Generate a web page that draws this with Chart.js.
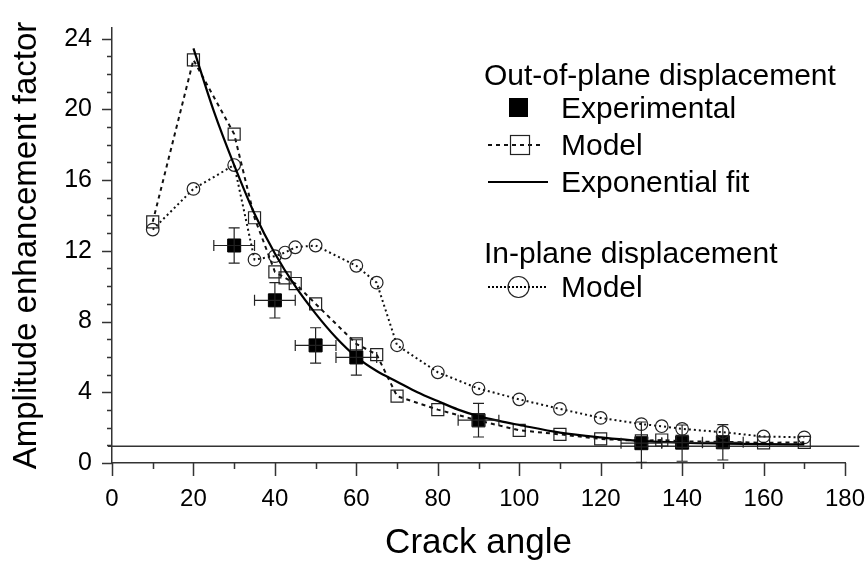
<!DOCTYPE html>
<html><head><meta charset="utf-8">
<script src="https://cdn.jsdelivr.net/npm/chart.js@4.4.0/dist/chart.umd.min.js"></script>
<style>html,body{margin:0;padding:0;background:#fff;}#wrap{width:868px;height:565px;}</style>
</head><body><div id="wrap"><canvas id="c" width="868" height="565"></canvas></div>
<script>
// ---- data ----
const crackAngleModel = [10,20,30,35,40,42.5,45,50,60,65,70,80,90,100,110,120,130,135,140,150,160,170];
const outOfPlaneModel = [13.64,22.8,18.6,13.87,10.81,10.47,10.15,9.0,6.74,6.13,3.78,3.02,2.4,1.85,1.62,1.36,1.25,1.3,1.22,1.2,1.14,1.17];
const crackAngleInPlane = [10,20,30,35,40,42.5,45,50,60,65,70,80,90,100,110,120,130,135,140,150,160,170];
const inPlaneModel = [13.2,15.5,16.85,11.5,11.7,11.9,12.2,12.3,11.15,10.2,6.66,5.13,4.21,3.6,3.06,2.55,2.2,2.08,1.93,1.74,1.5,1.45];
const crackAngleExp = [30,40,50,60,90,130,140,150];
const experimental = [12.3,9.2,6.65,5.97,2.42,1.12,1.15,1.17];
const expAngleErr = [5,5,5,5,5,5,5,5];
const expValueErrUp = [1.0,1.0,1.0,1.0,0.95,1.2,1.0,1.0];
const expValueErrDown = [1.0,1.0,1.0,1.0,0.95,1.08,1.05,1.0];
const crackAngleFit = [20,25,30,35,40,45,50,55,60,65,70,75,80,85,90,95,100,110,120,130,140,150,160,170];
const exponentialFit = [23.45,19.9,16.85,14.1,11.85,10.0,8.45,7.1,6.0,5.2,4.6,4.0,3.5,3.02,2.65,2.38,2.15,1.72,1.45,1.25,1.15,1.1,1.07,1.05];
const xTickLabels = [0,20,40,60,80,100,120,140,160,180];
const yTickLabels = [0,4,8,12,16,20,24];
const referenceLevel = 0.95;
const referenceSpan = [-1, 183.5];

const FONT = '"Liberation Sans", Arial, sans-serif';
const toPts = (xs, ys) => xs.map((x, i) => ({x: x, y: ys[i]}));

const decorPlugin = {
  id: 'decor',
  beforeDatasetsDraw(chart) {
    const {ctx, scales: {x, y}} = chart;
    ctx.save();
    ctx.strokeStyle = '#333';
    ctx.lineWidth = 1.5;
    const py = y.getPixelForValue(referenceLevel);
    ctx.beginPath();
    ctx.moveTo(x.getPixelForValue(referenceSpan[0]), py);
    ctx.lineTo(x.getPixelForValue(referenceSpan[1]), py);
    ctx.stroke();
    ctx.restore();
  },
  afterDatasetsDraw(chart) {
    const {ctx, scales: {x, y}} = chart;
    ctx.save();
    ctx.strokeStyle = '#222';
    ctx.lineWidth = 1.2;
    const cap = 5.5;
    crackAngleExp.forEach((a, i) => {
      const v = experimental[i];
      const px = x.getPixelForValue(a), py = y.getPixelForValue(v);
      const x1 = x.getPixelForValue(a - expAngleErr[i]), x2 = x.getPixelForValue(a + expAngleErr[i]);
      const y1 = y.getPixelForValue(v + expValueErrUp[i]), y2 = y.getPixelForValue(v - expValueErrDown[i]);
      ctx.beginPath();
      ctx.moveTo(x1, py); ctx.lineTo(x2, py);
      ctx.moveTo(x1, py - cap); ctx.lineTo(x1, py + cap);
      ctx.moveTo(x2, py - cap); ctx.lineTo(x2, py + cap);
      ctx.moveTo(px, y1); ctx.lineTo(px, y2);
      ctx.moveTo(px - cap, y1); ctx.lineTo(px + cap, y1);
      ctx.moveTo(px - cap, y2); ctx.lineTo(px + cap, y2);
      ctx.stroke();
    });
    ctx.restore();
  },
  afterDraw(chart) {
    const {ctx, chartArea, scales: {x, y}} = chart;
    ctx.save();
    ctx.strokeStyle = '#333';
    ctx.lineWidth = 1.5;
    ctx.beginPath();
    for (let v = 0; v <= 24; v += 1) {
      const py = Math.round(y.getPixelForValue(v)) + 0.5;
      const len = v % 4 === 0 ? 10 : 5;
      ctx.moveTo(chartArea.left - len, py); ctx.lineTo(chartArea.left, py);
    }
    for (let v = 0; v <= 180; v += 10) {
      const px = Math.round(x.getPixelForValue(v)) + 0.5;
      const len = v % 20 === 0 ? 13 : 6;
      ctx.moveTo(px, chartArea.bottom); ctx.lineTo(px, chartArea.bottom + len);
    }
    ctx.stroke();

    // legend
    ctx.fillStyle = '#000';
    ctx.font = '30px ' + FONT;
    ctx.textBaseline = 'alphabetic';
    ctx.textAlign = 'left';
    ctx.fillText('Out-of-plane displacement', 484, 85);
    ctx.fillText('Experimental', 561, 118);
    ctx.fillText('Model', 561, 155);
    ctx.fillText('Exponential fit', 561, 192);
    ctx.fillText('In-plane displacement', 484, 263);
    ctx.fillText('Model', 561, 297);
    // experimental symbol
    ctx.fillRect(509, 98, 19, 19);
    // out-of-plane model symbol
    ctx.strokeStyle = '#111';
    ctx.lineWidth = 2;
    ctx.setLineDash([4, 4]);
    ctx.beginPath(); ctx.moveTo(488, 145); ctx.lineTo(542, 145); ctx.stroke();
    ctx.setLineDash([]);
    ctx.lineWidth = 1.2;
    ctx.strokeStyle = '#222';
    ctx.strokeRect(510.5, 135.5, 19, 19);
    // fit symbol
    ctx.strokeStyle = '#000';
    ctx.lineWidth = 2;
    ctx.beginPath(); ctx.moveTo(488, 182); ctx.lineTo(548, 182); ctx.stroke();
    // in-plane symbol
    ctx.setLineDash([2, 2]);
    ctx.lineWidth = 2;
    ctx.beginPath(); ctx.moveTo(488, 287); ctx.lineTo(547, 287); ctx.stroke();
    ctx.setLineDash([]);
    ctx.lineWidth = 1.2;
    ctx.strokeStyle = '#222';
    ctx.beginPath(); ctx.arc(518.5, 287, 10.5, 0, Math.PI * 2); ctx.stroke();
    ctx.restore();
  }
};

new Chart(document.getElementById('c').getContext('2d'), {
  type: 'line',
  data: {
    datasets: [
      {
        label: 'Exponential fit',
        data: toPts(crackAngleFit, exponentialFit),
        borderColor: '#000', borderWidth: 2.2, pointRadius: 0,
        cubicInterpolationMode: 'monotone', fill: false
      },
      {
        label: 'Out-of-plane Model',
        data: toPts(crackAngleModel, outOfPlaneModel),
        borderColor: '#111', borderWidth: 2, borderDash: [4, 4],
        pointStyle: 'rect', pointRadius: 8.5, pointBorderWidth: 1.2,
        pointBorderColor: '#222', pointBackgroundColor: 'rgba(0,0,0,0)', fill: false
      },
      {
        label: 'In-plane Model',
        data: toPts(crackAngleInPlane, inPlaneModel),
        borderColor: '#111', borderWidth: 2, borderDash: [2, 3],
        pointStyle: 'circle', pointRadius: 6.3, pointBorderWidth: 1.2,
        pointBorderColor: '#222', pointBackgroundColor: 'rgba(0,0,0,0)', fill: false
      },
      {
        label: 'Experimental',
        data: toPts(crackAngleExp, experimental),
        showLine: false,
        pointStyle: 'rect', pointRadius: 9.2, pointBorderWidth: 1,
        pointBorderColor: '#000', pointBackgroundColor: '#000'
      }
    ]
  },
  options: {
    responsive: false,
    animation: false,
    events: [],
    layout: {padding: {left: 0, top: 28, right: 23, bottom: 0}},
    plugins: {legend: {display: false}, tooltip: {enabled: false}},
    scales: {
      x: {
        type: 'linear', min: 0, max: 180,
        grid: {display: false},
        border: {display: true, color: '#333', width: 1.5},
        ticks: {
          stepSize: 20, padding: 14, color: '#000', maxRotation: 0,
          font: {family: FONT, size: 24},
          callback: v => xTickLabels.includes(v) ? String(v) : ''
        },
        title: {display: true, text: 'Crack angle', color: '#000',
          font: {family: FONT, size: 35}, padding: {top: 0, bottom: 1}},
        afterFit: s => { s.height = 102; s.paddingLeft = 0; s.paddingRight = 0; }
      },
      y: {
        type: 'linear', min: 0, max: 24.6,
        grid: {display: false},
        border: {display: true, color: '#333', width: 1.5},
        ticks: {
          stepSize: 4, includeBounds: false, padding: 12, color: '#000',
          font: {family: FONT, size: 25},
          callback: v => yTickLabels.includes(v) ? String(v) : ''
        },
        title: {display: true, text: 'Amplitude enhancement factor', color: '#000',
          font: {family: FONT, size: 33}, padding: {top: 7, bottom: 0}},
        afterFit: s => { s.width = 112; s.paddingTop = 0; s.paddingBottom = 0; }
      }
    }
  },
  plugins: [decorPlugin]
});
</script>
</body></html>
